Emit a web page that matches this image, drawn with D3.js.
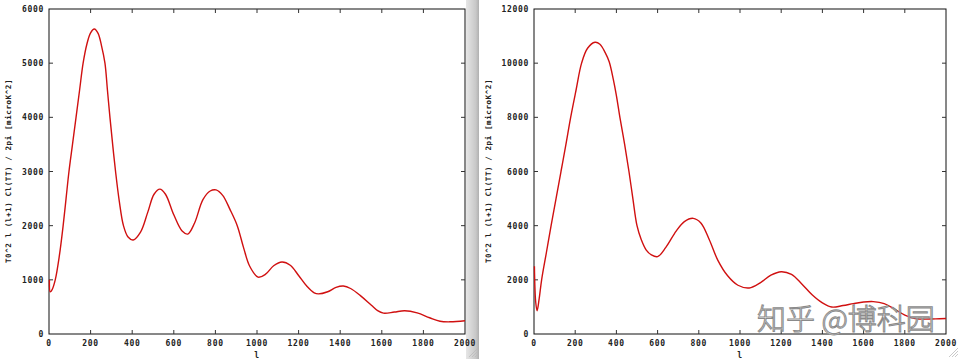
<!DOCTYPE html>
<html><head><meta charset="utf-8">
<script src="https://cdn.jsdelivr.net/npm/d3@7"></script>
<style>
html,body{margin:0;padding:0;background:#fff;}
svg{display:block;}
.tk{font-family:"DejaVu Sans Mono",monospace;font-size:8px;font-weight:bold;fill:#222;letter-spacing:0.7px;}
</style></head>
<body>
<svg id="c" width="960" height="359"></svg>
<script>
// ---- data ----
const xTicks = [0,200,400,600,800,1000,1200,1400,1600,1800,2000];
const yTicksLeft = [0,1000,2000,3000,4000,5000,6000];
const yTicksRight = [0,2000,4000,6000,8000,10000,12000];
const yLabel = "T0^2 l (l+1) Cl(TT) / 2pi [microK^2]";
const xLabel = "l";
const watermark = "知乎 @博科园";

const leftL = [2,6,15,30,50,68,82,96,113,130,147,164,182,200,218,236,252,269,281,293,306,320,338,358,380,405,440,475,505,533,560,600,640,667,700,740,775,803,835,870,905,935,965,1005,1040,1080,1120,1160,1200,1240,1275,1295,1340,1380,1415,1450,1500,1550,1580,1608,1660,1710,1770,1830,1880,1930,2000];
const leftV = [1000,780,820,1000,1450,2000,2500,3000,3500,4000,4500,5000,5350,5560,5630,5550,5330,5000,4500,4000,3500,3000,2450,2000,1790,1735,1880,2250,2580,2675,2580,2200,1900,1845,2050,2480,2640,2660,2560,2300,2000,1600,1250,1050,1100,1260,1330,1270,1080,880,760,740,780,860,885,840,700,530,430,385,405,430,390,300,235,225,245];
const rightL = [2,8,15,25,37,60,83,107,131,155,178,204,231,260,296,320,345,365,385,400,417,440,461,480,500,520,545,570,600,640,690,730,773,810,850,892,940,990,1045,1100,1150,1200,1250,1300,1350,1400,1445,1500,1550,1600,1647,1700,1750,1800,1850,1873,1950,2000];
const rightV = [2500,1200,860,1300,2000,3000,4000,5000,6000,7000,8000,9000,10000,10550,10770,10700,10400,10050,9400,8800,8000,7000,6000,5000,4000,3500,3100,2920,2855,3200,3800,4150,4270,4100,3500,2730,2150,1800,1700,1900,2170,2300,2200,1850,1450,1150,995,1050,1120,1180,1195,1120,920,700,570,550,560,570];

const svg = d3.select("#c");
const defs = svg.append("defs");
const g = defs.append("linearGradient").attr("id","sep").attr("x1","0").attr("x2","1");
g.append("stop").attr("offset","0").attr("stop-color","#e6e6e6");
g.append("stop").attr("offset","0.75").attr("stop-color","#c8c8c8");
g.append("stop").attr("offset","1").attr("stop-color","#b0b0b0");
svg.append("rect").attr("x",466).attr("y",0).attr("width",13).attr("height",359).attr("fill","url(#sep)");

function panel(x0,x1,yTicks,ls,vs,labelX){
  const x = d3.scaleLinear().domain([0,2000]).range([x0,x1]);
  const y = d3.scaleLinear().domain([0,yTicks[yTicks.length-1]]).range([334,9]);
  const p = svg.append("g");
  p.append("rect").attr("x",x0).attr("y",9).attr("width",x1-x0).attr("height",325)
    .attr("fill","none").attr("stroke","#111").attr("stroke-width",1);
  xTicks.forEach(t=>{
    if(t===0||t===2000) return;
    p.append("line").attr("x1",x(t)).attr("x2",x(t)).attr("y1",334).attr("y2",330).attr("stroke","#333");
    p.append("line").attr("x1",x(t)).attr("x2",x(t)).attr("y1",9).attr("y2",13).attr("stroke","#333");
  });
  yTicks.forEach(t=>{
    if(t===0||t===yTicks[yTicks.length-1]) return;
    p.append("line").attr("x1",x0).attr("x2",x0+4).attr("y1",y(t)).attr("y2",y(t)).attr("stroke","#333");
    p.append("line").attr("x1",x1).attr("x2",x1-4).attr("y1",y(t)).attr("y2",y(t)).attr("stroke","#333");
  });
  xTicks.forEach(t=>{
    p.append("text").attr("class","tk").attr("x",x(t)).attr("y",346).attr("text-anchor","middle").text(t);
  });
  yTicks.forEach(t=>{
    p.append("text").attr("class","tk").attr("x",x0-5).attr("y",y(t)+3).attr("text-anchor","end").text(t);
  });
  p.append("text").attr("class","tk").attr("x",(x0+x1)/2).attr("y",358).attr("text-anchor","middle").text(xLabel);
  p.append("text").attr("class","tk").attr("transform",`translate(${labelX},171) rotate(-90)`)
    .attr("text-anchor","middle").style("font-size","7.5px").style("letter-spacing","0.6px").text(yLabel);
  const data = ls.map((l,i)=>[l,vs[i]]);
  p.append("path").datum(data)
    .attr("d", d3.line().x(d=>x(d[0])).y(d=>y(d[1])).curve(d3.curveCatmullRom.alpha(0.5)))
    .attr("fill","none").attr("stroke","#d01010").attr("stroke-width",1.4);
}
panel(49,465,yTicksLeft,leftL,leftV,11);
panel(534,946,yTicksRight,rightL,rightV,491);

svg.append("text").attr("x",757).attr("y",330)
  .style("font-family","'Noto Sans CJK SC'").style("font-size","29px").style("font-weight","300")
  .attr("fill","#ffffff").attr("fill-opacity",0.85).attr("stroke","#8a8a8a").attr("stroke-width",1)
  .text(watermark);

[[478,357],[958,357]].forEach(([gx,gy])=>{
  [3,6,9].forEach(s=>{
    svg.append("line").attr("x1",gx-s).attr("y1",gy).attr("x2",gx).attr("y2",gy-s).attr("stroke","#bbb").attr("stroke-width",0.8);
  });
});
</script>
</body></html>
